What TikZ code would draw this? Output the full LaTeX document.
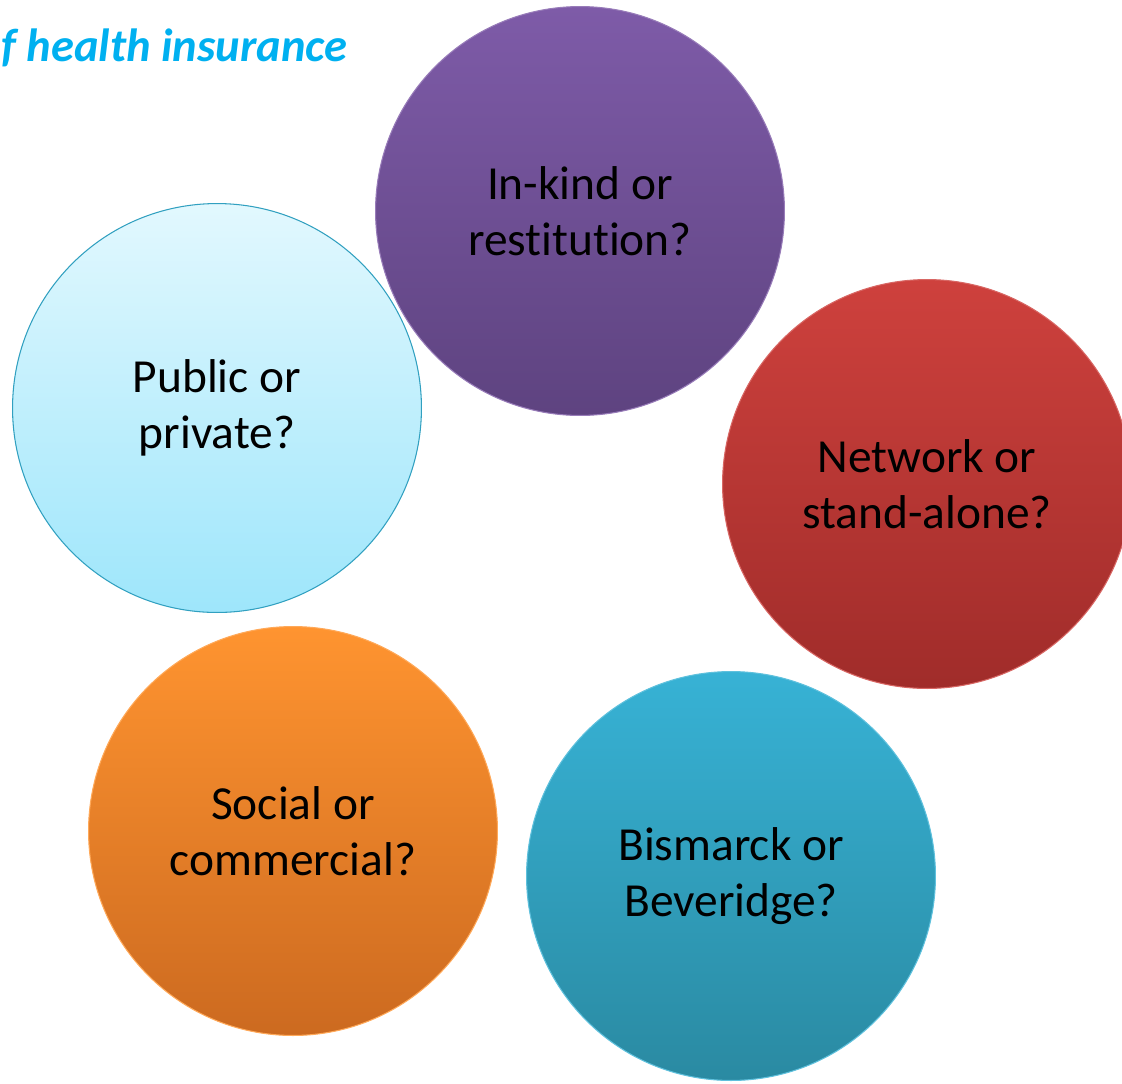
\documentclass[tikz,border=0pt]{standalone}
\usepackage{fontspec}
\setmainfont{Carlito}[Ligatures=NoCommon]
\usepackage{tikz}
\usepackage{xcolor}
\definecolor{kindtop}{HTML}{7E5BA8}
\definecolor{kindbot}{HTML}{5E4380}
\definecolor{pubtop}{HTML}{E2F8FE}
\definecolor{pubbot}{HTML}{9EE6FB}
\definecolor{nettop}{HTML}{CE413D}
\definecolor{netbot}{HTML}{A02C2A}
\definecolor{soctop}{HTML}{FF9430}
\definecolor{socbot}{HTML}{CC6A20}
\definecolor{bistop}{HTML}{37B2D5}
\definecolor{bisbot}{HTML}{2A8AA2}
\definecolor{titleblue}{HTML}{00B0F0}

\begin{document}
\begin{tikzpicture}[x=0.02cm,y=-0.02cm,
    bubble/.style={circle,inner sep=0pt,minimum size=8.18cm,align=center,
        line width=0.6pt,font=\fontsize{27}{32}\selectfont}]

    % frame of the slide
    \useasboundingbox (0,0) rectangle (1122,1083);

    \node (title) [anchor=base east,inner sep=0pt,text=titleblue,
        font=\fontsize{26.5}{30}\selectfont\bfseries\itshape] at (348,61)
        {f health insurance};

    % the five questions
    \node (cKind) [bubble,draw=kindtop!80!white,top color=kindtop,bottom color=kindbot]
        at (580,211) {In-kind or\\restitution?};

    \node (cPub) [bubble,draw=bistop!90!black,top color=pubtop,bottom color=pubbot]
        at (217,408) {Public or\\private?};

    \node (cNet) [bubble,draw=nettop!80!white,top color=nettop,bottom color=netbot]
        at (927,484) {Network or\\stand-alone?};

    \node (cSoc) [bubble,draw=soctop!80!white,top color=soctop,bottom color=socbot]
        at (293,831) {Social or\\commercial?};

    \node (cBis) [bubble,draw=bistop!80!white,top color=bistop,bottom color=bisbot]
        at (731,876) {Bismarck or\\Beveridge?};

\end{tikzpicture}
\end{document}
